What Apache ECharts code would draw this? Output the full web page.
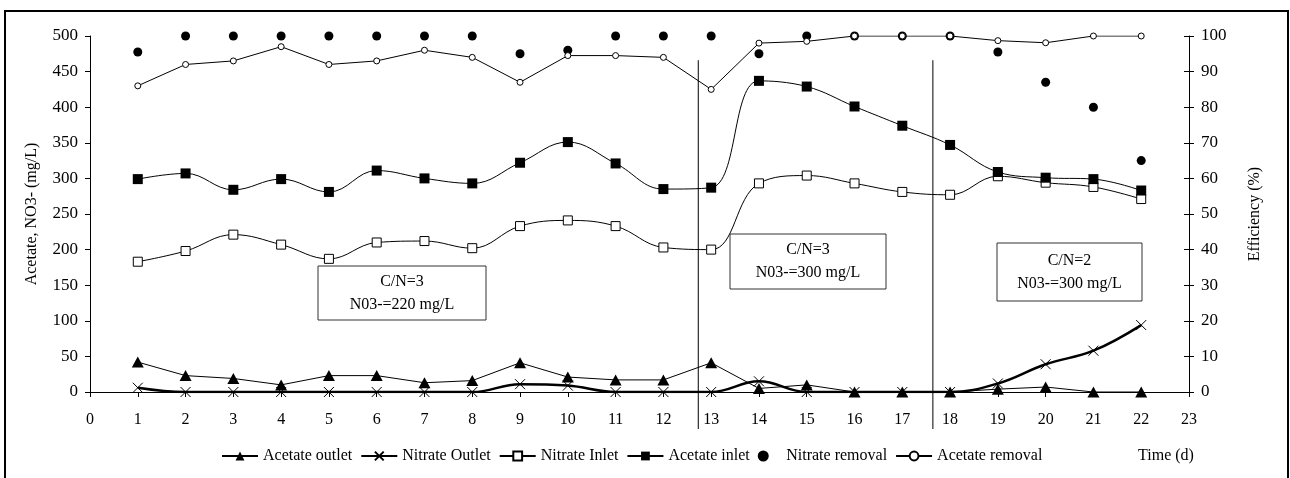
<!DOCTYPE html>
<html>
<head>
<meta charset="utf-8">
<script src="https://cdn.jsdelivr.net/npm/echarts@6/dist/echarts.min.js"></script>
<style>html,body{margin:0;padding:0;background:#fff}#c{width:1290px;height:478px}</style>
</head>
<body>
<div id="c"></div>
<script>
var days = [1,2,3,4,5,6,7,8,9,10,11,12,13,14,15,16,17,18,19,20,21,22];
var xTicks = [0,1,2,3,4,5,6,7,8,9,10,11,12,13,14,15,16,17,18,19,20,21,22,23];
var acetateOutlet = [42,23,19,10,23,23,13,16,41,21,17,17,41,5,10,0,0,0,4,7,0,0];
var nitrateOutlet = [6,0,0,0,0,0,0,0,11,9,0,0,0,15,0,0,0,0,12,39,58,94];
var nitrateInlet = [183,198,221,207,187,210,212,202,233,241,233,203,200,293,304,293,281,277,303,294,288,271];
var acetateInlet = [299,307,284,299,281,311,300,293,322,351,321,285,287,437,429,401,374,347,309,301,299,283];
var nitrateRemoval = [95.5,100,100,100,100,100,100,100,95,96,100,100,100,95,100,100,100,100,95.5,87,80,65];
var acetateRemoval = [86,92,93,97,92,93,96,94,87,94.5,94.5,94,85,98,98.5,100,100,100,98.7,98.1,100,100];
var phaseBreaks = [12.73, 17.64];
var boxTexts = ['C/N=3\nN03-=220 mg/L','C/N=3\nN03-=300 mg/L','C/N=2\nN03-=300 mg/L'];

function pairs(vals){ return days.map(function(d,i){ return [d, vals[i]]; }); }
var FONT = 'Liberation Serif';
var chart = echarts.init(document.getElementById('c'), null, {renderer:'canvas'});
var X_PATH = 'path://M0,0L10,10M10,0L0,10';
var option = {
  animation:false,
  backgroundColor:'#fff',
  textStyle:{fontFamily:FONT, color:'#000'},
  grid:{left:90, right:101, top:36, bottom:86},
  legend:{
    left:216, top:443, itemGap:8, itemWidth:36, itemHeight:11,
    textStyle:{fontFamily:FONT, fontSize:16, color:'#000'},
    data:['Acetate outlet','Nitrate Outlet','Nitrate Inlet','Acetate inlet','Nitrate removal','Acetate removal']
  },
  xAxis:{
    type:'value', min:0, max:23, interval:1,
    axisLine:{lineStyle:{color:'#000', width:1}},
    axisTick:{show:true, length:5, lineStyle:{color:'#000'}},
    axisLabel:{fontFamily:FONT, fontSize:16, color:'#000', margin:20,
      formatter:function(v){ return xTicks.indexOf(v) >= 0 ? String(v) : ''; }},
    splitLine:{show:false}
  },
  yAxis:[
    {type:'value', min:0, max:500, interval:50, position:'left',
     name:'Acetate, NO3- (mg/L)', nameLocation:'middle', nameRotate:90, nameGap:50,
     nameTextStyle:{fontFamily:FONT, fontSize:16, color:'#000'},
     axisLine:{show:true, lineStyle:{color:'#000'}},
     axisTick:{show:true, length:5, lineStyle:{color:'#000'}},
     axisLabel:{fontFamily:FONT, fontSize:17, color:'#000', margin:12},
     splitLine:{show:false}},
    {type:'value', min:0, max:100, interval:10, position:'right',
     name:'Efficiency (%)', nameLocation:'middle', nameRotate:90, nameGap:58,
     nameTextStyle:{fontFamily:FONT, fontSize:16, color:'#000'},
     axisLine:{show:true, lineStyle:{color:'#000'}},
     axisTick:{show:true, length:5, lineStyle:{color:'#000'}},
     axisLabel:{fontFamily:FONT, fontSize:17, color:'#000', margin:12},
     splitLine:{show:false}},
    {type:'value', min:0, max:100, interval:10, position:'right',
     axisLine:{show:false},
     axisTick:{show:true, inside:true, length:5, lineStyle:{color:'#000'}},
     axisLabel:{show:false}, splitLine:{show:false}}
  ],
  series:[
    {name:'Acetate outlet', type:'line', yAxisIndex:0, data:pairs(acetateOutlet),
     symbol:'triangle', symbolSize:[12,11],
     lineStyle:{color:'#000', width:1}, itemStyle:{color:'#000'}},
    {name:'Nitrate Outlet', type:'line', yAxisIndex:0, data:pairs(nitrateOutlet), smooth:0.4,
     symbol:X_PATH, symbolSize:10, symbolKeepAspect:true,
     lineStyle:{color:'#000', width:2.5},
     itemStyle:{color:'#000', borderColor:'#000', borderWidth:1}},
    {name:'Nitrate Inlet', type:'line', yAxisIndex:0, data:pairs(nitrateInlet), smooth:0.4,
     symbol:'rect', symbolSize:9,
     lineStyle:{color:'#000', width:1},
     itemStyle:{color:'#fff', borderColor:'#000', borderWidth:1}},
    {name:'Acetate inlet', type:'line', yAxisIndex:0, data:pairs(acetateInlet), smooth:0.4,
     symbol:'rect', symbolSize:10,
     lineStyle:{color:'#000', width:1}, itemStyle:{color:'#000'}},
    {name:'Nitrate removal', type:'scatter', yAxisIndex:1, data:pairs(nitrateRemoval),
     symbol:'circle', symbolSize:9, itemStyle:{color:'#000', opacity:1}},
    {name:'Acetate removal', type:'line', yAxisIndex:1, data:pairs(acetateRemoval),
     symbol:'circle', symbolSize:6, showAllSymbol:true,
     lineStyle:{color:'#000', width:1},
     itemStyle:{color:'#fff', borderColor:'#000', borderWidth:1}}
  ]
};
chart.setOption(option);

function px(xv, yv){ return chart.convertToPixel({xAxisIndex:0, yAxisIndex:0}, [xv, yv]); }
var g = [];
g.push({type:'rect', shape:{x:5, y:11, width:1283, height:480},
        style:{fill:null, stroke:'#000', lineWidth:2}, silent:true, z:0});
phaseBreaks.forEach(function(b){
  var p1 = px(b, 466), p2 = px(b, -52);
  g.push({type:'line', shape:{x1:p1[0], y1:p1[1], x2:p2[0], y2:p2[1]},
          style:{stroke:'#000', lineWidth:1}, z:1});
});
var boxes = [[318,266,168,54],[730,234,156,55],[997,243,145,58]];
boxes.forEach(function(b, i){
  g.push({type:'rect', shape:{x:b[0], y:b[1], width:b[2], height:b[3]},
          style:{fill:'#fff', stroke:'#333', lineWidth:1}, z:5});
  g.push({type:'text', x:b[0]+b[2]/2, y:b[1]+b[3]/2,
          style:{text:boxTexts[i], fontFamily:FONT, fontSize:16, fill:'#000',
                 align:'center', verticalAlign:'middle', lineHeight:23}, z:6});
});
g.push({type:'text', x:1166, y:456, style:{text:'Time (d)', fontFamily:FONT, fontSize:16,
        fill:'#000', align:'center', verticalAlign:'middle'}, z:6});
chart.setOption({graphic:g});
</script>
</body>
</html>
